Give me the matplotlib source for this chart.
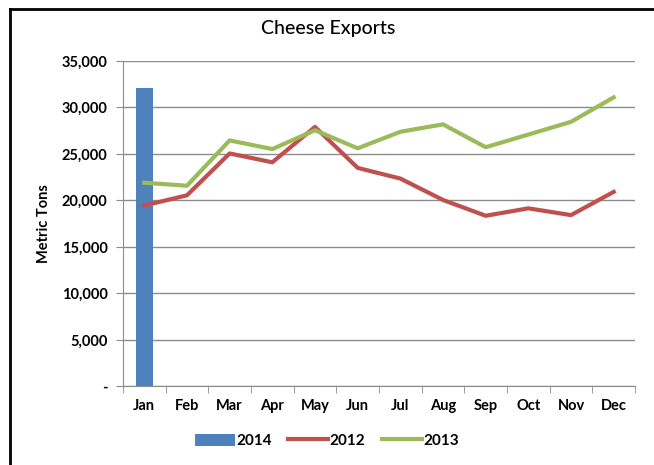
import matplotlib
matplotlib.use("Agg")
import matplotlib.pyplot as plt
from matplotlib.lines import Line2D
from matplotlib.ticker import FuncFormatter

months = ["Jan", "Feb", "Mar", "Apr", "May", "Jun",
          "Jul", "Aug", "Sep", "Oct", "Nov", "Dec"]
exports_2014 = [32100]
exports_2012 = [19450, 20550, 25050, 24100, 27900, 23500,
                22350, 20050, 18350, 19150, 18420, 20920]
exports_2013 = [21900, 21580, 26450, 25520, 27550, 25600,
                27380, 28180, 25720, 27080, 28450, 31080]

plt.rcParams['font.family'] = ['Lato', 'DejaVu Sans']

fig = plt.figure(figsize=(6.54, 4.65), dpi=100)
ax = fig.add_axes([0.188, 0.169, 0.783, 0.700])

x = list(range(len(months)))
bar = ax.bar(x[:len(exports_2014)], exports_2014, width=0.4, color='#4F81BD',
             label='2014', zorder=2)
l12, = ax.plot(x, exports_2012, color='#C0504D', lw=3, label='2012', zorder=3)
l13, = ax.plot(x, exports_2013, color='#9BBB59', lw=3, label='2013', zorder=3)

ax.set_xlim(-0.5, 11.5)
ax.set_ylim(0, 35000)
ax.set_yticks(range(0, 35001, 5000))
ax.yaxis.set_major_formatter(FuncFormatter(lambda v, p: '-' if v == 0 else f'{int(v):,}'))
ax.set_xticks(x)
ax.set_xticklabels(months)
ax.set_xticks([i - 0.5 for i in range(13)], minor=True)

ax.grid(axis='y', color='#8c8c8c', lw=1, zorder=0)
for s in ['top', 'right']:
    ax.spines[s].set_visible(False)
for s in ['left', 'bottom']:
    ax.spines[s].set_color('#8c8c8c')
ax.tick_params(axis='x', which='major', length=0, pad=9, labelsize=10.5)
ax.tick_params(axis='x', which='minor', length=5, color='#8c8c8c')
ax.tick_params(axis='y', length=5, color='#8c8c8c', pad=6, labelsize=10.5)
for lab in ax.get_xticklabels() + ax.get_yticklabels():
    lab.set_fontweight('bold')

ax.set_ylabel('Metric Tons', fontsize=10.5, fontweight='bold', labelpad=8)
fig.text(0.502, 0.938, 'Cheese Exports', ha='center', va='center',
         fontsize=14, fontweight='medium')

leg = fig.legend([bar, l12, l13], ['2014', '2012', '2013'],
                 loc='center', bbox_to_anchor=(0.50, 0.052), ncol=3, frameon=False,
                 handlelength=2.6, handleheight=0.9, handletextpad=0.1,
                 columnspacing=1.1, prop={'weight': 'bold', 'size': 11})

# outer border (only top and left are visible in the frame)
fig.add_artist(Line2D([0.016, 0.016], [0, 0.981], color='black', lw=2))
fig.add_artist(Line2D([0.016, 1.0], [0.981, 0.981], color='black', lw=2))

fig.savefig('out.png', dpi=100)
